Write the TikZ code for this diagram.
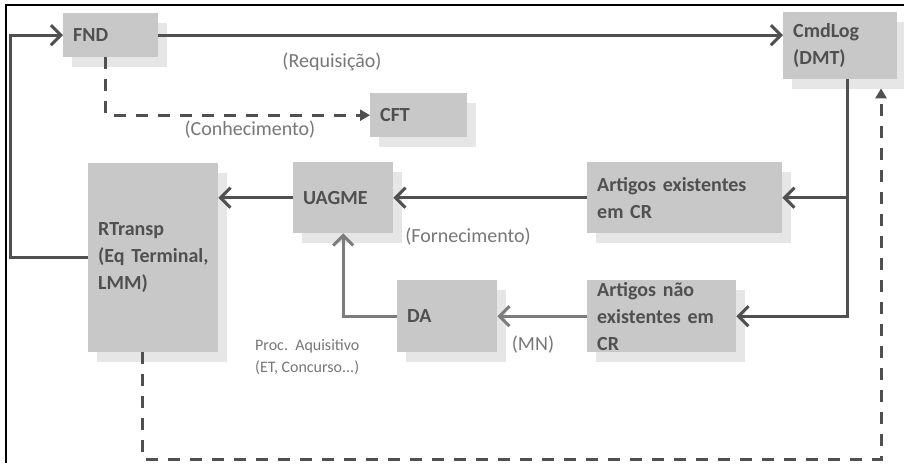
\documentclass[tikz,border=0pt]{standalone}
\usepackage{fontspec}
\setmainfont{Carlito}
\usetikzlibrary{arrows.meta,shadows}
\definecolor{boxfill}{HTML}{C8C8C8}
\definecolor{shadowfill}{HTML}{E6E6E6}
\definecolor{ink}{HTML}{505050}
\definecolor{softink}{HTML}{7C7C7C}
\definecolor{labelink}{HTML}{777777}
\tikzset{
  blk/.style={fill=boxfill, draw=none, anchor=north west, inner xsep=10pt, inner ysep=0pt,
    align=left, text=ink, font=\bfseries\fontsize{20}{27}\selectfont,
    drop shadow={shadow xshift=9pt, shadow yshift=-10pt, fill=shadowfill, opacity=1}},
  main/.style={draw=ink, line width=3pt},
  soft/.style={draw=softink, line width=3pt},
  barb/.style={-{Straight Barb[length=10pt,width=20pt,line width=3pt]}},
  flow/.style={main, dash pattern=on 12pt off 10pt, -{Triangle[length=10pt,width=11pt]}},
  lbl/.style={text=labelink, font=\fontsize{20}{24}\selectfont, inner sep=0pt},
  smalllbl/.style={text=labelink, font=\fontsize{16}{22}\selectfont, inner sep=0pt, align=left}
}
\newcommand{\blkat}[6]{%
  \node[blk, text width=#4-20pt, minimum width=#4, minimum height=#5] (#1) at (#2,#3) {#6};}
\begin{document}
\begin{tikzpicture}[x=1pt,y=-1pt]
  \useasboundingbox (0,0) rectangle (904,463);
  \fill[white] (0,0) rectangle (904,463);
  % frame
  \draw[black, line width=2.5pt] (6,463) -- (6,5) -- (904,5);

  % blocks
  \blkat{FND}{63}{13}{95pt}{44pt}{FND}
  \blkat{CFT}{370}{93}{97pt}{44pt}{CFT}
  \blkat{CmdLog}{783}{12}{114pt}{67pt}{CmdLog\\(DMT)}
  \blkat{RTransp}{88}{163}{130pt}{189pt}{RTransp\\\mbox{(Eq Terminal,}\\LMM)}
  \blkat{UAGME}{293}{162}{100pt}{71pt}{UAGME}
  \blkat{DA}{397}{280}{100pt}{72pt}{DA}
  \blkat{ArtEx}{587}{162}{195pt}{71pt}{Artigos existentes\\em CR}
  \blkat{ArtNao}{587}{280}{149pt}{72pt}{Artigos não\\existentes em\\CR}

  \coordinate (loop) at (10,0);
  \coordinate (back) at (881,459);

  % request flow
  \draw[main, barb] (FND.east) -- (FND.east -| CmdLog.west);
  \draw[main, barb] (RTransp.west) -- (RTransp.west -| loop) |- (FND.west);
  \draw[flow] ([xshift=-5pt]FND.south) |- (CFT.west);

  % supply branches
  \draw[main] ([xshift=7pt]CmdLog.south) |- ([xshift=10pt]ArtNao.east);
  \draw[main, barb] ([xshift=10pt]ArtNao.east) -- (ArtNao.east);
  \draw[main, barb] ([xshift=7pt]CmdLog.south |- ArtEx.east) -- (ArtEx.east);
  \draw[main, barb] (ArtEx.west) -- (UAGME.east);
  \draw[main, barb] (UAGME.west) -- (UAGME.west -| RTransp.east);
  \draw[soft, barb] (ArtNao.west) -- (DA.east);
  \draw[soft, barb] (DA.west) -| (UAGME.south);

  % feedback
  \draw[flow, shorten >=9pt] ([xshift=-11pt]RTransp.south) |- (back) -- (back |- CmdLog.south);

  % labels
  \node[lbl] (lreq) at (332,62) {(Requisição)};
  \node[lbl] (lcon) at (250,130) {(Conhecimento)};
  \node[lbl] (lfor) at (468,237) {(Fornecimento)};
  \node[lbl] (lmn) at (533,345) {(MN)};
  \node[smalllbl, anchor=west] (lproc) at (255,357) {Proc.\ \ Aquisitivo\\(ET, Concurso...)};
\end{tikzpicture}
\end{document}
